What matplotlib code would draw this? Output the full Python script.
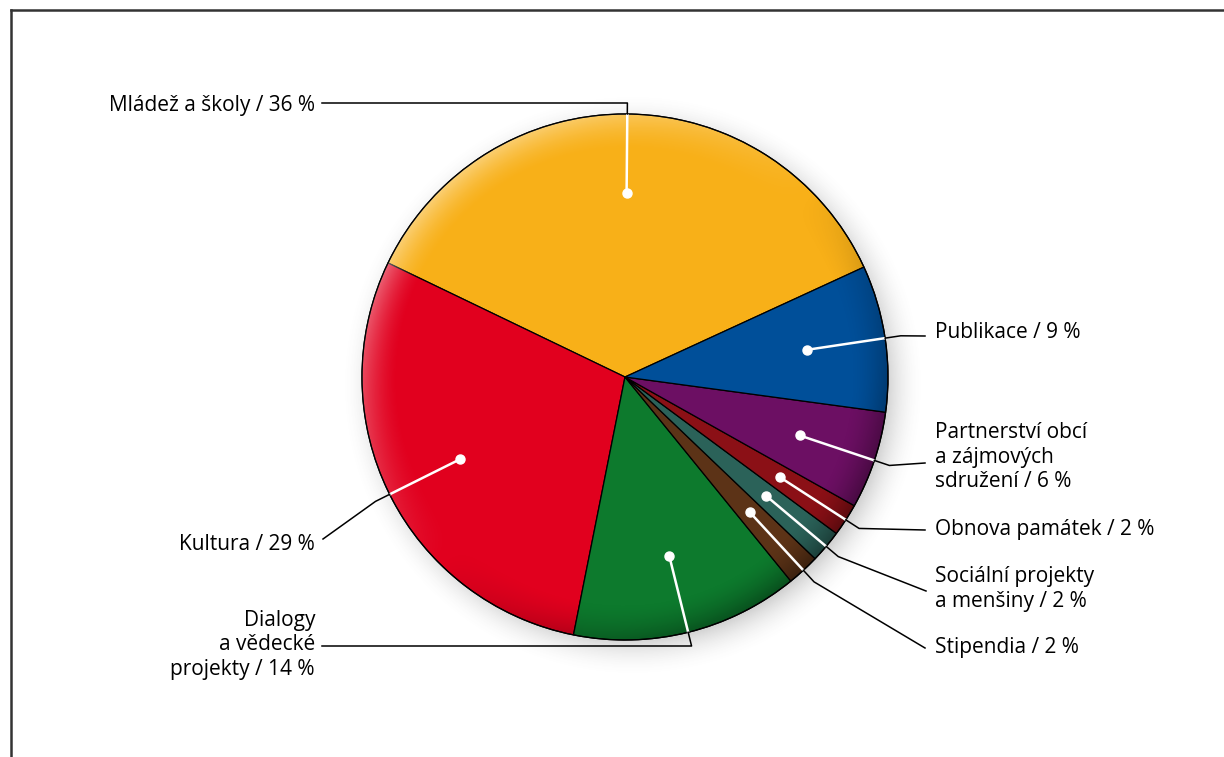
import numpy as np
import matplotlib.pyplot as plt
from matplotlib.patches import Circle

# data (counterclockwise from the yellow slice)
labels = ['Mládež a školy / 36 %', 'Kultura / 29 %', 'Dialogy\na vědecké\nprojekty / 14 %',
          'Stipendia / 2 %', 'Sociální projekty\na menšiny / 2 %', 'Obnova památek / 2 %',
          'Partnerství obcí\na zájmových\nsdružení / 6 %', 'Publikace / 9 %']
values = [36, 29, 14, 2, 2, 2, 6, 9]
colors = ['#F8B018', '#E1001E', '#0D7A2D', '#5C3317', '#2B6259', '#8B1016', '#6C0F63', '#004F99']

W, H = 1224, 757
cx, cy, R = 625, H - 377, 263
start = 24.7

# label layout: text anchor (px from top), line end, elbow style
text_pos = [(315, 106), (315, 544), (315, 645), (935, 647), (935, 589), (935, 530), (935, 457), (935, 333)]
line_end = [(322, 103), (323, 539), (322, 646), (925, 648), (926, 591), (925, 530), (925, 463), (925, 336)]
horizontal = [True, False, True, False, False, False, False, False]

plt.rcParams['font.family'] = ['Open Sans', 'DejaVu Sans']

fig = plt.figure(figsize=(W / 100, H / 100), dpi=100)
ax = fig.add_axes([0, 0, 1, 1])

# soft drop shadow
xs = np.arange(cx - R - 80, cx + R + 80)
ys = np.arange(cy - R - 80, cy + R + 80)
X, Y = np.meshgrid(xs, ys)
d = np.hypot(X - (cx + 8), Y - (cy - 8))
a = np.clip((R + 30 - d) / 50, 0, 1) ** 2 * 0.45
sh = np.zeros(X.shape + (4,))
sh[..., :3] = 0.35
sh[..., 3] = a
ax.imshow(sh, extent=(xs[0], xs[-1], ys[0], ys[-1]), origin='lower', zorder=0, interpolation='bilinear')

wedges, _ = ax.pie(values, colors=colors, startangle=start, counterclock=True, center=(cx, cy),
                   radius=R, wedgeprops=dict(edgecolor='black', linewidth=0.9), frame=True)
ax.set_xlim(0, W)
ax.set_ylim(0, H)
ax.set_aspect('equal')
ax.axis('off')
for w in wedges:
    w.set_zorder(1)

# rim shading: light upper-left, dark lower-right
xs = np.arange(cx - R, cx + R + 1)
ys = np.arange(cy - R, cy + R + 1)
X, Y = np.meshgrid(xs, ys)
rr = np.hypot(X - cx, Y - cy) / R
th = np.arctan2(Y - cy, X - cx)
f = np.clip((rr - 0.86) / 0.14, 0, 1) ** 1.6
c = np.cos(th - np.radians(135))
sd = np.zeros(X.shape + (4,))
sd[..., :3] = np.where(c[..., None] > 0, 1.0, 0.0)
sd[..., 3] = np.where(c > 0, 0.4 * f * c, 0.35 * f * (-c))
im = ax.imshow(sd, extent=(xs[0], xs[-1], ys[0], ys[-1]), origin='lower', zorder=2, interpolation='bilinear')
clip = Circle((cx, cy), R, transform=ax.transData)
im.set_clip_path(clip)
ax.add_patch(Circle((cx, cy), R, fill=False, edgecolor='black', linewidth=0.9, zorder=3))

# leader lines and labels
for i, w in enumerate(wedges):
    mid = np.radians((w.theta1 + w.theta2) / 2)
    ux, uy = np.cos(mid), np.sin(mid)
    dot = (cx + 0.70 * R * ux, cy + 0.70 * R * uy)
    edge = (cx + R * ux, cy + R * uy)
    ex, ey = line_end[i][0], H - line_end[i][1]
    if horizontal[i]:
        elbow = (edge[0] + (ey - edge[1]) * ux / uy, ey)
    else:
        elbow = (cx + 1.06 * R * ux, cy + 1.06 * R * uy)
    ax.plot([dot[0], edge[0]], [dot[1], edge[1]], color='white', lw=1.8, zorder=4, solid_capstyle='butt')
    ax.plot(dot[0], dot[1], 'o', color='white', ms=6.5, zorder=4)
    ax.plot([edge[0], elbow[0], ex], [edge[1], elbow[1], ey], color='black', lw=1.1, zorder=4)
    tx, ty = text_pos[i]
    ha = 'right' if tx < cx else 'left'
    ax.text(tx, H - ty, labels[i], ha=ha, va='center', fontsize=15, color='black',
            linespacing=1.2, multialignment=ha)

# frame (top and left)
ax.plot([11, W], [H - 10, H - 10], color='#333333', lw=1.8, zorder=5)
ax.plot([11, 11], [H - 10, 0], color='#333333', lw=1.8, zorder=5)

fig.savefig('out.png', dpi=100)
